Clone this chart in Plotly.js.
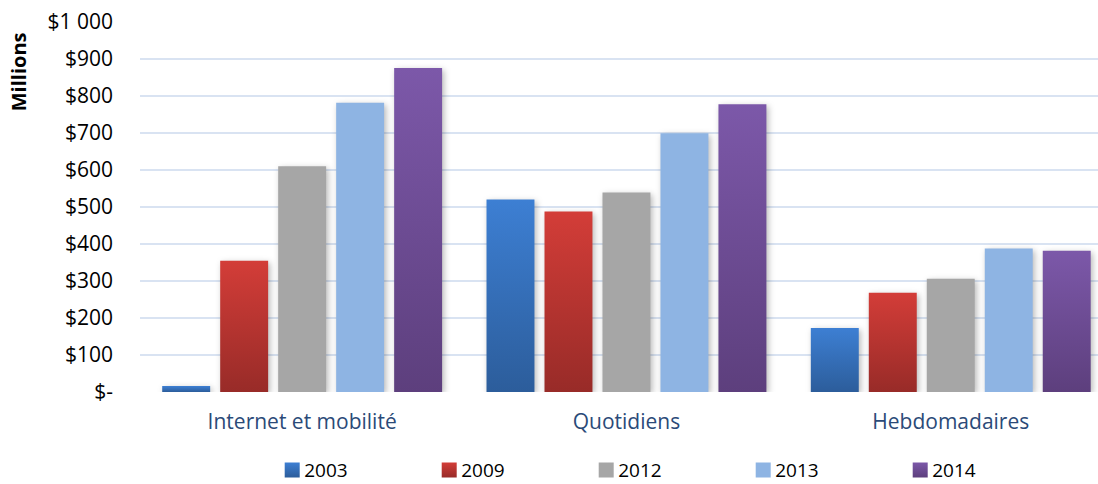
<!DOCTYPE html>
<html>
<head>
<meta charset="utf-8">
<script src="https://cdn.plot.ly/plotly-3.0.1.min.js"></script>
<style>
  html, body { margin: 0; padding: 0; background: #fff; }
  #chart { width: 1098px; height: 484px; }
</style>
</head>
<body>
<div id="chart"></div>
<script>
// Advertising revenue by medium, in millions of dollars
const categories = ['Internet et mobilité', 'Quotidiens', 'Hebdomadaires'];
const years = ['2003', '2009', '2012', '2013', '2014'];
const values2003 = [16, 520, 173];
const values2009 = [355, 488, 268];
const values2012 = [610, 539, 306];
const values2013 = [782, 699, 388];
const values2014 = [876, 778, 382];
const yTickVals = [0, 100, 200, 300, 400, 500, 600, 700, 800, 900, 1000];
const yTickText = ['$-', '$100', '$200', '$300', '$400', '$500', '$600', '$700', '$800', '$900', '$1 000'];

const seriesValues = [values2003, values2009, values2012, values2013, values2014];

// top / bottom colours of each series (flat colours repeat the same value)
const shades = [
  ['#3d7fd3', '#2c5d9b'],
  ['#d33d38', '#982b28'],
  ['#a6a6a6', '#a6a6a6'],
  ['#8eb4e3', '#8eb4e3'],
  ['#7c58a9', '#5d3f7d']
];

const FONT = '"Open Sans", Lato, sans-serif';

const traces = years.map((yr, i) => ({
  type: 'bar',
  name: yr,
  x: categories,
  y: seriesValues[i],
  marker: { color: shades[i][0], line: { width: 0 } },
  hoverinfo: 'none'
}));

const layout = {
  width: 1098,
  height: 484,
  margin: { l: 140, r: 0, t: 22, b: 92, autoexpand: false },
  paper_bgcolor: '#ffffff',
  plot_bgcolor: '#ffffff',
  barmode: 'group',
  bargap: 0.106,
  bargroupgap: 0.173,
  font: { family: FONT, size: 21, color: '#000000' },
  xaxis: {
    type: 'category',
    range: [-0.5, 2.454],
    showgrid: false,
    zeroline: false,
    showline: false,
    ticks: '',
    ticklabelstandoff: 15,
    tickfont: { family: FONT, size: 21, color: '#2b4a78' }
  },
  yaxis: {
    range: [0, 1000],
    tickvals: yTickVals,
    ticktext: yTickText,
    showgrid: true,
    gridcolor: '#d9e3f2',
    gridwidth: 2,
    zeroline: false,
    showline: false,
    ticks: '',
    ticklabelstandoff: 26,
    tickfont: { family: FONT, size: 21, color: '#000000' }
  },
  showlegend: true,
  legend: {
    orientation: 'h',
    x: 0.138,
    xanchor: 'left',
    y: -0.211,
    yanchor: 'middle',
    entrywidth: 112,
    font: { family: FONT, size: 19, color: '#000000' },
    bgcolor: 'rgba(0,0,0,0)'
  },
  annotations: [{
    text: '<b>Millions</b>',
    xref: 'paper', yref: 'paper',
    x: -0.126, y: 0.865,
    xanchor: 'center', yanchor: 'middle',
    textangle: -90,
    showarrow: false,
    font: { family: FONT, size: 20, color: '#000000' }
  }]
};

Plotly.newPlot('chart', traces, layout, { displayModeBar: false, staticPlot: true }).then(gd => {
  // vertical gradient fills and soft shadows for the bars
  const svg = gd.querySelector('svg.main-svg');
  const ns = 'http://www.w3.org/2000/svg';
  const defs = document.createElementNS(ns, 'defs');
  shades.forEach((pair, i) => {
    const g = document.createElementNS(ns, 'linearGradient');
    g.setAttribute('id', 'barfill' + i);
    g.setAttribute('x1', '0'); g.setAttribute('y1', '0');
    g.setAttribute('x2', '0'); g.setAttribute('y2', '1');
    [[0, pair[0]], [1, pair[1]]].forEach(([o, c]) => {
      const s = document.createElementNS(ns, 'stop');
      s.setAttribute('offset', o);
      s.setAttribute('stop-color', c);
      g.appendChild(s);
    });
    defs.appendChild(g);
  });
  svg.insertBefore(defs, svg.firstChild);

  gd.querySelectorAll('.barlayer .trace').forEach((tr, i) => {
    tr.querySelectorAll('path').forEach(p => {
      p.style.fill = 'url(#barfill' + i + ')';
      p.style.filter = 'drop-shadow(2px 2px 3px rgba(0,0,0,0.28))';
    });
  });
  // larger legend swatches, text set closer to them
  gd.querySelectorAll('.legend .traces').forEach((tr, i) => {
    tr.querySelectorAll('.legendpoints path').forEach(p => {
      p.setAttribute('d', 'M7.5,7.5H-7.5V-7.5H7.5Z');
      p.style.fill = 'url(#barfill' + i + ')';
    });
    const t = tr.querySelector('.legendtext');
    if (t) t.setAttribute('x', 32);
  });
});
</script>
</body>
</html>
